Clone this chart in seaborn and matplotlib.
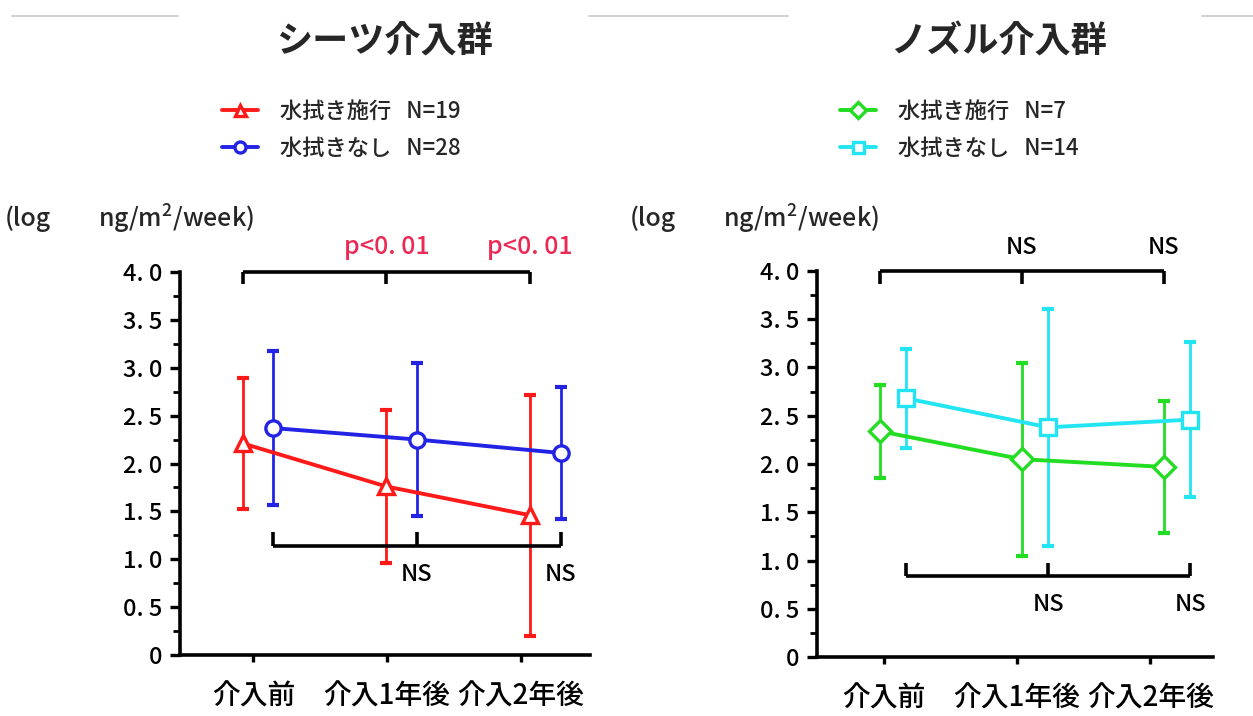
import numpy as np
import pandas as pd
import matplotlib
matplotlib.use("Agg")
import matplotlib.pyplot as plt
from matplotlib.lines import Line2D
import seaborn as sns

# ---- data -------------------------------------------------------------
periods = ["介入前", "介入1年後", "介入2年後"]
y_ticks = [0, 0.5, 1.0, 1.5, 2.0, 2.5, 3.0, 3.5, 4.0]
y_tick_labels = ["0", "0. 5", "1. 0", "1. 5", "2. 0", "2. 5", "3. 0", "3. 5", "4. 0"]

# シーツ介入群
sheet_wipe_mean = [2.21, 1.76, 1.46]
sheet_wipe_sd = [0.68, 0.80, 1.26]
sheet_none_mean = [2.37, 2.25, 2.11]
sheet_none_sd = [0.80, 0.80, 0.69]
sheet_labels = ["水拭き施行   N=19", "水拭きなし   N=28"]
sheet_top_marks = ["p<0. 01", "p<0. 01"]
sheet_bottom_marks = ["NS", "NS"]

# ノズル介入群
nozzle_wipe_mean = [2.34, 2.05, 1.97]
nozzle_wipe_sd = [0.48, 1.00, 0.68]
nozzle_none_mean = [2.68, 2.38, 2.46]
nozzle_none_sd = [0.51, 1.23, 0.80]
nozzle_labels = ["水拭き施行   N=7", "水拭きなし   N=14"]
nozzle_top_marks = ["NS", "NS"]
nozzle_bottom_marks = ["NS", "NS"]

titles = ["シーツ介入群", "ノズル介入群"]
unit_prefix = "(log"
unit_body = r"ng/m$^{\mathregular{2}}$/week)"

# ---- style ------------------------------------------------------------
sns.set_theme(style="white")
plt.rcParams["font.family"] = ["Noto Sans CJK JP", "DejaVu Sans"]
plt.rcParams["font.weight"] = "medium"
plt.rcParams["mathtext.fontset"] = "custom"
plt.rcParams["mathtext.rm"] = "Noto Sans CJK JP"

RED, BLUE = "#ff1a1a", "#2323e6"
GREEN, CYAN = "#22dd22", "#22e4f2"
PINK = "#ea2a55"

fig = plt.figure(figsize=(12.53, 7.16), dpi=100)
fig.patch.set_facecolor("white")

ax_l = fig.add_axes([180 / 1253, 1 - 655 / 716, 410 / 1253, 383 / 716])
ax_r = fig.add_axes([817 / 1253, 1 - 657 / 716, 396 / 1253, 386 / 716])

# thin frame lines along the top edge
for x0, x1 in [(12, 178), (589, 788), (1202, 1253)]:
    fig.add_artist(Line2D([x0 / 1253, x1 / 1253], [1 - 16 / 716] * 2,
                          color="#c8c8c8", lw=1.2, transform=fig.transFigure))


def draw_series(ax, xs, mean, sd, color, marker, label):
    df = pd.DataFrame({"x": xs, "y": mean})
    ax.errorbar(xs, mean, yerr=sd, fmt="none", ecolor=color, elinewidth=2.0,
                capsize=4, capthick=3, zorder=2)
    sns.lineplot(data=df, x="x", y="y", ax=ax, color=color, lw=2.8,
                 marker=marker, markersize=11, markerfacecolor="white",
                 markeredgecolor=color, markeredgewidth=2.4, label=label,
                 legend=False, zorder=3)


def bracket(ax, xs, y, tip):
    ax.plot([xs[0], xs[-1]], [y, y], color="black", lw=2.6, clip_on=False,
            solid_capstyle="butt", zorder=4)
    for x in xs:
        ax.plot([x, x], [y, y + tip], color="black", lw=2.6, clip_on=False,
                solid_capstyle="butt", zorder=4)


def style_axes(ax, xlim):
    ax.set_xlim(*xlim)
    ax.set_ylim(0, 4.0)
    ax.set_xticks(range(len(periods)))
    ax.set_xticklabels(periods, fontsize=20)
    ax.set_yticks(y_ticks)
    ax.set_yticklabels(y_tick_labels, fontsize=17)
    ax.set_yticks(np.arange(0.25, 4.0, 0.5), minor=True)
    ax.set_xlabel("")
    ax.set_ylabel("")
    sns.despine(ax=ax)
    for s in ("left", "bottom"):
        ax.spines[s].set_linewidth(2.6)
        ax.spines[s].set_color("black")
    ax.tick_params(axis="y", which="major", direction="out", length=7, width=2.4,
                   pad=6, left=True, colors="black")
    ax.tick_params(axis="y", which="minor", direction="out", length=5, width=2.0,
                   left=True, color="black")
    ax.tick_params(axis="x", direction="out", length=5, width=2.4, pad=14,
                   bottom=True, colors="black")
    ax.set_facecolor("none")


# ---- left panel: シーツ介入群 ----------------------------------------------
step_l = 1.075
xs_wipe_l = [-0.08 + step_l * i for i in range(3)]
xs_none_l = [0.15 + step_l * i for i in range(3)]
draw_series(ax_l, xs_wipe_l, sheet_wipe_mean, sheet_wipe_sd, RED, "^", sheet_labels[0])
draw_series(ax_l, xs_none_l, sheet_none_mean, sheet_none_sd, BLUE, "o", sheet_labels[1])
style_axes(ax_l, (-0.55, 2.52))

bracket(ax_l, xs_wipe_l, 4.0, -0.13)
for x, t in zip(xs_wipe_l[1:], sheet_top_marks):
    ax_l.text(x, 4.26, t, color=PINK, fontsize=18, ha="center", va="center")
bracket(ax_l, xs_none_l, 1.14, 0.14)
for x, t in zip(xs_none_l[1:], sheet_bottom_marks):
    ax_l.text(x, 0.84, t, color="black", fontsize=17, ha="center", va="center")

# ---- right panel: ノズル介入群 ---------------------------------------------
step_r = 1.065
xs_wipe_r = [-0.03 + step_r * i for i in range(3)]
xs_none_r = [0.17 + step_r * i for i in range(3)]
draw_series(ax_r, xs_wipe_r, nozzle_wipe_mean, nozzle_wipe_sd, GREEN, "D", nozzle_labels[0])
draw_series(ax_r, xs_none_r, nozzle_none_mean, nozzle_none_sd, CYAN, "s", nozzle_labels[1])
style_axes(ax_r, (-0.50, 2.47))

bracket(ax_r, xs_wipe_r, 4.0, -0.13)
for x, t in zip(xs_wipe_r[1:], nozzle_top_marks):
    ax_r.text(x, 4.24, t, color="black", fontsize=17, ha="center", va="center")
bracket(ax_r, xs_none_r, 0.84, 0.13)
for x, t in zip(xs_none_r[1:], nozzle_bottom_marks):
    ax_r.text(x, 0.54, t, color="black", fontsize=17, ha="center", va="center")

# ---- titles, legends, unit labels -------------------------------------
fig.text(384 / 1253, 1 - 42 / 716, titles[0], fontsize=26, fontweight="bold",
         ha="center", va="center")
fig.text(998 / 1253, 1 - 42 / 716, titles[1], fontsize=26, fontweight="bold",
         ha="center", va="center")

for ax, anchor in [(ax_l, (222 / 1253, 1 - 100 / 716)), (ax_r, (840 / 1253, 1 - 100 / 716))]:
    handles, labels = ax.get_legend_handles_labels()
    fig.legend(handles, labels, loc="upper left", bbox_to_anchor=anchor,
               bbox_transform=fig.transFigure, frameon=False, fontsize=16,
               handlelength=1.6, handletextpad=1.0, labelspacing=0.62,
               borderpad=0, borderaxespad=0, markerscale=0.72)

for x_prefix, x_body in [(5, 98), (630, 723)]:
    fig.text(x_prefix / 1253, 1 - 219 / 716, unit_prefix, fontsize=18,
             ha="left", va="center")
    fig.text(x_body / 1253, 1 - 219 / 716, unit_body, fontsize=18,
             ha="left", va="center")

fig.savefig("out.png", dpi=100, facecolor="white")
